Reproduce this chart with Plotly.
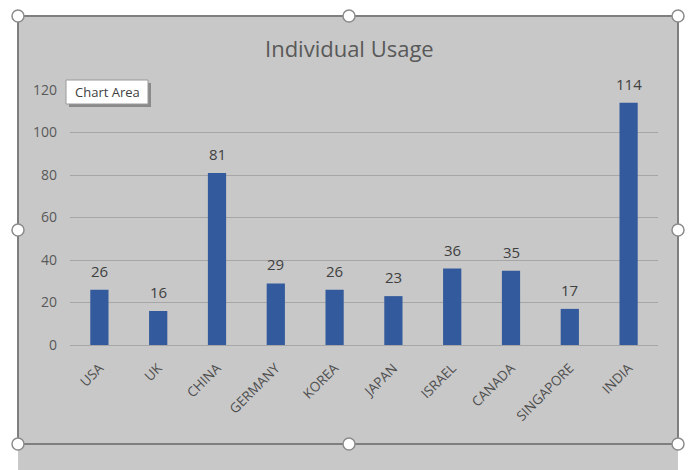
import plotly.graph_objects as go

countries = ["USA", "UK", "CHINA", "GERMANY", "KOREA", "JAPAN", "ISRAEL", "CANADA", "SINGAPORE", "INDIA"]
usage = [26, 16, 81, 29, 26, 23, 36, 35, 17, 114]
y_ticks = [0, 20, 40, 60, 80, 100, 120]

W, H = 688, 470
L, R, T, B = 70, 30, 90, 125
pw, ph = W - L - R, H - T - B

def px(x):
    return (x - L) / pw

def py(y):
    return (H - B - y) / ph

fig = go.Figure(go.Bar(
    x=countries, y=usage, marker=dict(color="#335A9C", line=dict(width=0)),
    width=0.31,
))

shapes = []
shapes.append(dict(type="rect", xref="paper", yref="paper", x0=px(18), x1=px(678), y0=py(470), y1=py(16),
                   fillcolor="#C8C8C8", line=dict(width=0), layer="below"))
border = dict(color="#7F7F7F", width=2)
for (x0, y0, x1, y1) in [(18, 16, 678, 16), (18, 444, 678, 444), (18, 16, 18, 444), (678, 16, 678, 444)]:
    shapes.append(dict(type="line", xref="paper", yref="paper", x0=px(x0), y0=py(y0), x1=px(x1), y1=py(y1),
                       line=border, layer="below"))
r = 6
for (cx, cy) in [(18, 16), (349, 16), (678, 16), (18, 230), (678, 230), (18, 444), (349, 444), (678, 444)]:
    shapes.append(dict(type="circle", xref="paper", yref="paper", x0=px(cx - r), x1=px(cx + r),
                       y0=py(cy + r), y1=py(cy - r), fillcolor="#FFFFFF", line=dict(color="#8C8C8C", width=1.5)))
shapes.append(dict(type="rect", xref="paper", yref="paper", x0=px(69), x1=px(151), y0=py(107), y1=py(83),
                   fillcolor="#8A8A8A", line=dict(width=0)))
shapes.append(dict(type="rect", xref="paper", yref="paper", x0=px(66), x1=px(148), y0=py(104), y1=py(80),
                   fillcolor="#FFFFFF", line=dict(color="#9A9A9A", width=1)))

annotations = [
    dict(text="Individual Usage", xref="paper", yref="paper", x=px(349), y=py(48), showarrow=False,
         font=dict(size=22, color="#595959", family="Open Sans"), xanchor="center", yanchor="middle"),
]
for c, v in zip(countries, usage):
    annotations.append(dict(text=str(v), x=c, y=v, xref="x", yref="y", showarrow=False,
                            yanchor="bottom", yshift=7, font=dict(size=15, color="#404040", family="Open Sans")))
annotations.append(dict(text="Chart Area", xref="paper", yref="paper", x=px(107), y=py(92), showarrow=False,
                        font=dict(size=13, color="#404040", family="Open Sans"), xanchor="center", yanchor="middle"))

fig.update_layout(
    width=W, height=H, margin=dict(l=L, r=R, t=T, b=B),
    paper_bgcolor="#FFFFFF", plot_bgcolor="rgba(0,0,0,0)",
    font=dict(family="Open Sans", color="#595959", size=14),
    shapes=shapes, annotations=annotations, showlegend=False,
)
fig.update_yaxes(range=[0, 120], tickvals=y_ticks, showgrid=True, gridcolor="#A6A6A6", gridwidth=1,
                 zeroline=False, showline=False, ticks="", tickfont=dict(size=14, color="#595959"), ticklabelstandoff=12)
fig.update_xaxes(tickangle=-45, showline=True, linecolor="#A6A6A6", linewidth=1, ticks="",
                 tickfont=dict(size=13.5, color="#4F4F4F"), showgrid=False, ticklabelstandoff=9)

fig.write_html("out.html")
